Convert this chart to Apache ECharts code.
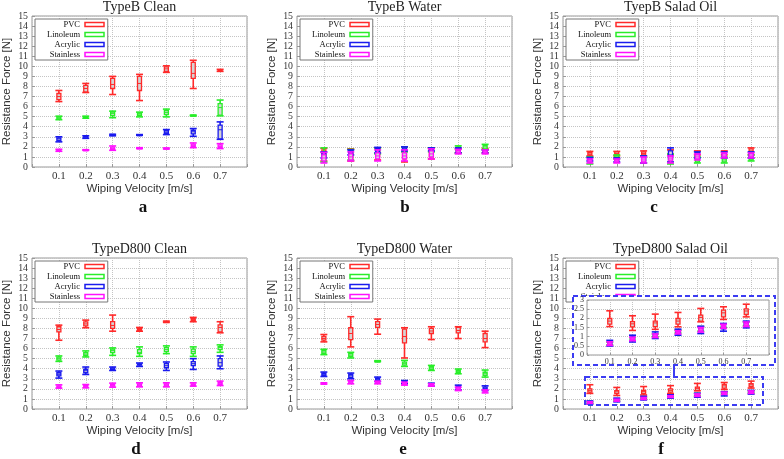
<!DOCTYPE html>
<html>
<head>
<meta charset="utf-8">
<script src="https://cdn.jsdelivr.net/npm/echarts@6/dist/echarts.min.js"></script>
<style>
html, body { margin: 0; padding: 0; background: #fff; }
#main { width: 784px; height: 459px; }
</style>
</head>
<body>
<div id="main"></div>
<script>
// wiping velocities (x) and materials
var velocity = [0.1, 0.2, 0.3, 0.4, 0.5, 0.6, 0.7];
var materials = ['PVC', 'Linoleum', 'Acrylic', 'Stainless'];
var colors = ['#ff2a2a', '#28ee28', '#1a1aee', '#ff10ff'];
var panelTitles = ['TypeB Clean', 'TypeB Water', 'TyepB Salad Oil', 'TypeD800 Clean', 'TypeD800 Water', 'TypeD800 Salad Oil'];
var panelLetters = ['a', 'b', 'c', 'd', 'e', 'f'];

// each entry: [min, q1, median, q3, max] for one velocity
var aPVC  = [[6.5,6.7,7.0,7.3,7.6],[7.4,7.45,7.8,8.1,8.3],[7.2,7.8,8.2,8.8,9.0],[6.6,7.6,8.3,9.0,9.2],[9.4,9.5,9.75,9.95,10.05],[7.8,8.8,9.3,10.4,10.6],[9.5,9.55,9.62,9.68,9.7]];
var aLino = [[4.7,4.78,4.88,4.97,5.05],[4.85,4.9,4.95,5.0,5.05],[4.9,5.1,5.3,5.45,5.55],[4.98,5.1,5.25,5.35,5.45],[4.98,5.2,5.4,5.6,5.75],[5.08,5.1,5.12,5.14,5.16],[5.08,5.15,5.9,6.3,6.65]];
var aAcr  = [[2.5,2.65,2.8,2.9,3.0],[2.85,2.9,2.97,3.05,3.1],[3.1,3.15,3.2,3.23,3.25],[3.15,3.18,3.2,3.21,3.22],[3.22,3.35,3.45,3.6,3.72],[3.05,3.3,3.5,3.65,3.82],[2.75,2.8,3.7,4.15,4.48]];
var aSta  = [[1.56,1.6,1.67,1.72,1.76],[1.66,1.68,1.7,1.71,1.72],[1.66,1.75,1.85,1.98,2.09],[1.83,1.86,1.88,1.9,1.92],[1.79,1.82,1.84,1.87,1.89],[1.92,2.05,2.15,2.28,2.39],[1.83,1.95,2.05,2.2,2.32]];

var bPVC  = [[0.6,1.0,1.3,1.7,1.85],[0.6,0.8,1.2,1.6,1.8],[0.7,1.0,1.4,1.8,1.9],[0.5,0.8,1.2,1.6,2.0],[0.8,1.0,1.4,1.7,1.85],[1.4,1.5,1.6,1.7,1.8],[1.4,1.5,1.6,1.75,1.85]];
var bLino = [[0.5,0.6,0.8,1.2,1.9],[0.7,1.0,1.3,1.6,1.75],[1.3,1.4,1.6,1.8,1.9],[1.5,1.6,1.7,1.9,2.0],[1.5,1.6,1.7,1.8,1.9],[1.4,1.6,1.8,2.0,2.1],[1.7,1.8,2.0,2.15,2.25]];
var bAcr  = [[0.9,1.0,1.2,1.4,1.5],[1.2,1.3,1.5,1.6,1.7],[1.4,1.5,1.7,1.85,1.95],[1.6,1.7,1.8,1.9,2.0],[1.6,1.7,1.8,1.85,1.9],[1.4,1.5,1.6,1.8,1.9],[1.4,1.5,1.6,1.65,1.7]];
var bSta  = [[0.4,0.6,0.9,1.2,1.45],[0.6,0.7,1.0,1.3,1.5],[0.6,0.8,1.1,1.4,1.7],[0.6,0.8,1.1,1.4,1.7],[0.8,1.0,1.3,1.6,1.8],[1.3,1.4,1.5,1.65,1.75],[1.3,1.4,1.5,1.6,1.7]];

var cPVC  = [[1.1,1.2,1.3,1.45,1.55],[1.1,1.2,1.35,1.5,1.55],[1.1,1.2,1.35,1.5,1.6],[1.2,1.3,1.45,1.6,1.7],[1.2,1.3,1.4,1.5,1.6],[1.2,1.3,1.4,1.5,1.6],[1.2,1.4,1.6,1.8,1.9]];
var cLino = [[0.3,0.5,0.7,0.9,1.0],[0.8,0.9,1.0,1.1,1.2],[0.4,0.6,0.8,1.0,1.1],[0.3,0.5,0.8,1.1,1.3],[0.4,0.5,0.7,0.9,1.0],[0.4,0.5,0.7,0.9,1.0],[0.6,0.7,0.9,1.1,1.2]];
var cAcr  = [[0.6,0.7,0.8,0.9,0.95],[0.5,0.6,0.75,0.85,0.9],[0.4,0.6,0.8,1.0,1.1],[0.5,0.8,1.2,1.6,1.9],[0.9,1.0,1.2,1.4,1.5],[0.9,1.0,1.2,1.4,1.5],[0.9,1.0,1.2,1.4,1.5]];
var cSta  = [[0.4,0.5,0.6,0.7,0.8],[0.4,0.5,0.6,0.7,0.8],[0.4,0.5,0.7,0.9,1.0],[0.4,0.6,0.8,1.0,1.1],[0.7,0.8,1.0,1.2,1.3],[0.9,1.0,1.1,1.3,1.4],[0.9,1.0,1.1,1.3,1.4]];

var dPVC  = [[6.83,7.67,7.9,8.17,8.33],[8.07,8.25,8.45,8.65,8.83],[7.73,8.0,8.3,8.67,9.33],[7.73,7.8,7.9,8.0,8.1],[8.6,8.63,8.65,8.7,8.73],[8.67,8.8,8.9,9.0,9.1],[7.57,7.65,8.1,8.35,8.67]];
var dLino = [[4.73,4.85,5.0,5.15,5.27],[5.17,5.3,5.45,5.6,5.77],[5.33,5.6,5.8,5.95,6.07],[5.23,5.5,5.6,5.9,6.17],[5.5,5.7,5.9,6.1,6.27],[5.23,5.5,5.7,5.95,6.17],[5.63,5.9,6.1,6.2,6.37]];
var dAcr  = [[3.07,3.3,3.45,3.6,3.77],[3.43,3.6,3.8,3.95,4.17],[3.83,3.92,4.0,4.08,4.17],[4.23,4.35,4.4,4.48,4.57],[3.83,4.1,4.3,4.5,4.67],[3.93,4.3,4.5,4.7,5.0],[4.0,4.25,4.6,5.0,5.27]];
var dSta  = [[2.07,2.15,2.2,2.3,2.4],[2.1,2.18,2.25,2.35,2.43],[2.17,2.28,2.35,2.45,2.57],[2.2,2.3,2.4,2.5,2.6],[2.2,2.3,2.4,2.5,2.6],[2.27,2.35,2.4,2.5,2.6],[2.33,2.45,2.55,2.65,2.77]];

var ePVC  = [[6.67,6.85,7.0,7.2,7.4],[6.17,6.9,7.5,8.07,9.17],[7.43,8.1,8.4,8.67,8.93],[5.07,6.57,7.2,7.93,8.07],[6.9,7.5,7.75,8.0,8.17],[7.0,7.57,7.8,8.1,8.17],[6.1,6.67,7.0,7.5,7.73]];
var eLino = [[5.4,5.5,5.65,5.8,5.93],[5.07,5.2,5.35,5.5,5.63],[4.7,4.72,4.75,4.77,4.8],[4.23,4.35,4.5,4.65,4.83],[3.83,3.95,4.1,4.2,4.33],[3.5,3.65,3.75,3.85,3.97],[3.17,3.35,3.5,3.65,3.87]];
var eAcr  = [[3.23,3.35,3.45,3.55,3.67],[3.0,3.15,3.3,3.45,3.57],[2.73,2.85,2.95,3.05,3.17],[2.5,2.58,2.65,2.73,2.83],[2.27,2.35,2.42,2.5,2.57],[1.9,2.05,2.15,2.25,2.37],[1.83,1.95,2.05,2.18,2.3]];
var eSta  = [[2.47,2.5,2.55,2.58,2.6],[2.5,2.6,2.7,2.78,2.83],[2.5,2.58,2.65,2.72,2.77],[2.37,2.45,2.5,2.6,2.67],[2.27,2.32,2.38,2.45,2.5],[1.83,1.92,2.0,2.1,2.17],[1.6,1.68,1.75,1.83,1.9]];

var fPVC  = [[1.55,1.68,1.85,1.99,2.41],[1.34,1.53,1.7,1.82,2.14],[1.4,1.55,1.75,1.85,2.23],[1.54,1.68,1.85,1.99,2.32],[1.81,1.84,2.05,2.17,2.54],[1.94,2.08,2.3,2.45,2.63],[2.08,2.21,2.4,2.52,2.77]];
var fLino = [[0.55,0.58,0.62,0.66,0.7],[0.8,0.84,0.88,0.92,0.95],[1.0,1.04,1.07,1.11,1.15],[1.2,1.23,1.27,1.31,1.35],[1.3,1.36,1.42,1.48,1.55],[1.5,1.55,1.6,1.65,1.7],[1.6,1.65,1.7,1.75,1.8]];
var fAcr  = [[0.49,0.57,0.65,0.73,0.8],[0.71,0.8,0.9,0.99,1.08],[0.9,0.99,1.08,1.17,1.26],[1.08,1.16,1.25,1.33,1.41],[1.17,1.28,1.4,1.48,1.57],[1.3,1.42,1.55,1.63,1.72],[1.48,1.58,1.68,1.77,1.85]];
var fSta  = [[0.52,0.56,0.6,0.66,0.72],[0.78,0.82,0.86,0.92,0.97],[0.95,1.0,1.04,1.1,1.15],[1.15,1.18,1.22,1.27,1.32],[1.25,1.3,1.35,1.42,1.5],[1.45,1.5,1.55,1.62,1.68],[1.55,1.6,1.65,1.72,1.8]];

var panelData = [
  [aPVC, aLino, aAcr, aSta],
  [bPVC, bLino, bAcr, bSta],
  [cPVC, cLino, cAcr, cSta],
  [dPVC, dLino, dAcr, dSta],
  [ePVC, eLino, eAcr, eSta],
  [fPVC, fLino, fAcr, fSta]
];

// layout
var gridLeft = [32, 297, 563, 32, 297, 563];
var gridTop = [16, 16, 16, 258, 258, 258];
var gridW = 215, gridH = 151;
var letterX = [143, 405, 654, 136, 403, 661];
var letterY = [199, 199, 199, 441, 441, 441];

var serif = 'Liberation Serif';
var sans = 'Liberation Sans';

function renderBox(params, api) {
  var x = api.value(0);
  var lo = api.coord([x, api.value(1)]);
  var q1 = api.coord([x, api.value(2)]);
  var med = api.coord([x, api.value(3)]);
  var q3 = api.coord([x, api.value(4)]);
  var hi = api.coord([x, api.value(5)]);
  var c = api.visual('color');
  var cap = 3.5, bw = 2;
  var st = {stroke: c, lineWidth: 1.6};
  return {
    type: 'group',
    children: [
      {type: 'line', shape: {x1: lo[0], y1: lo[1], x2: hi[0], y2: hi[1]}, style: st},
      {type: 'line', shape: {x1: lo[0] - cap, y1: lo[1], x2: lo[0] + cap, y2: lo[1]}, style: st},
      {type: 'line', shape: {x1: hi[0] - cap, y1: hi[1], x2: hi[0] + cap, y2: hi[1]}, style: st},
      {type: 'rect', shape: {x: q3[0] - bw, y: q3[1], width: bw * 2, height: Math.max(q1[1] - q3[1], 1)},
        style: {fill: '#d4d4d4', stroke: c, lineWidth: 1.3}},
      {type: 'line', shape: {x1: med[0] - bw, y1: med[1], x2: med[0] + bw, y2: med[1]},
        style: {stroke: c, lineWidth: 1}}
    ]
  };
}

function velLabel(v) {
  var r = Math.round(v * 10) / 10;
  return velocity.indexOf(r) >= 0 ? r.toFixed(1) : '';
}

var grids = [], xAxes = [], yAxes = [], series = [], legends = [], titles = [];

for (var i = 0; i < 6; i++) {
  grids.push({left: gridLeft[i], top: gridTop[i], width: gridW, height: gridH,
    show: true, borderColor: '#999', borderWidth: 1, backgroundColor: '#fff'});
  xAxes.push({
    gridIndex: i, type: 'value', min: 0, max: 0.8, interval: 0.1,
    name: 'Wiping Velocity [m/s]', nameLocation: 'middle', nameGap: 15,
    nameTextStyle: {fontFamily: sans, fontSize: 11.5, color: '#333'},
    axisLine: {show: false},
    axisTick: {inside: true, length: 3, lineStyle: {color: '#999'}},
    axisLabel: {formatter: velLabel, fontFamily: serif, fontSize: 11, color: '#333', margin: 4},
    splitLine: {show: true, lineStyle: {type: 'dotted', color: '#c4c4c4'}}
  });
  yAxes.push({
    gridIndex: i, type: 'value', min: 0, max: 15, interval: 1,
    name: 'Resistance Force [N]', nameLocation: 'middle', nameGap: 19,
    nameTextStyle: {fontFamily: sans, fontSize: 11.5, color: '#333'},
    axisLine: {show: false},
    axisTick: {inside: true, length: 3, lineStyle: {color: '#999'}},
    axisLabel: {fontFamily: serif, fontSize: 9.8, lineHeight: 9.8, color: '#333', margin: 4,
      showMinLabel: true, showMaxLabel: true, hideOverlap: false},
    splitLine: {show: true, lineStyle: {type: 'dotted', color: '#c4c4c4'}}
  });
  for (var m = 0; m < 4; m++) {
    series.push({
      type: 'custom', name: materials[m], xAxisIndex: i, yAxisIndex: i,
      itemStyle: {color: colors[m]}, renderItem: renderBox,
      encode: {x: 0, y: [1, 2, 3, 4, 5]},
      data: panelData[i][m].map(function (s, k) { return [velocity[k]].concat(s); })
    });
  }
  legends.push({
    left: gridLeft[i] + 3, top: gridTop[i] + 3, orient: 'vertical', align: 'right',
    data: materials.map(function (n, k) {
      return {name: n, itemStyle: {color: '#fff', borderColor: colors[k], borderWidth: 1.5}};
    }),
    icon: 'rect', itemWidth: 19, itemHeight: 4, itemGap: 1, padding: [1, 3],
    borderColor: '#777', borderWidth: 1, backgroundColor: '#fff', selectedMode: false,
    textStyle: {fontFamily: serif, fontSize: 8.5, lineHeight: 7.7, width: 42, align: 'right', color: '#111'}
  });
  titles.push({text: panelTitles[i], left: gridLeft[i] + gridW / 2, top: gridTop[i] - 16, textAlign: 'center',
    padding: 0, textStyle: {fontFamily: serif, fontSize: 14, fontWeight: 'normal', color: '#222'}});
  titles.push({text: panelLetters[i], left: letterX[i], top: letterY[i], textAlign: 'center', padding: 0,
    textStyle: {fontFamily: serif, fontSize: 17, fontWeight: 'bold', color: '#111'}});
}

// zoomed inset for panel f
grids.push({left: 587, top: 300, width: 182, height: 55, show: true, borderColor: '#999',
  borderWidth: 1, backgroundColor: '#fff', zlevel: 1});
xAxes.push({
  gridIndex: 6, type: 'value', min: 0, max: 0.8, interval: 0.1, zlevel: 1,
  axisLine: {show: false},
  axisTick: {inside: true, length: 2, lineStyle: {color: '#999'}},
  axisLabel: {formatter: velLabel, fontFamily: serif, fontSize: 8, color: '#333', margin: 3},
  splitLine: {show: true, lineStyle: {type: 'dotted', color: '#c4c4c4'}}
});
yAxes.push({
  gridIndex: 6, type: 'value', min: 0, max: 3, interval: 0.5, zlevel: 1,
  axisLine: {show: false},
  axisTick: {inside: true, length: 2, lineStyle: {color: '#999'}},
  axisLabel: {fontFamily: serif, fontSize: 8, lineHeight: 7, color: '#333', margin: 3,
    showMinLabel: true, showMaxLabel: true, hideOverlap: false},
  splitLine: {show: true, lineStyle: {type: 'dotted', color: '#c4c4c4'}}
});
function fData(m) {
  return panelData[5][m].map(function (s, k) { return [velocity[k]].concat(s); });
}
for (var m2 = 0; m2 < 4; m2++) {
  series.push({
    type: 'custom', name: materials[m2], xAxisIndex: 6, yAxisIndex: 6, zlevel: 1,
    itemStyle: {color: colors[m2]}, renderItem: renderBox,
    encode: {x: 0, y: [1, 2, 3, 4, 5]},
    data: fData(m2)
  });
}

var dashBlue = '#3c3cf2';
var option = {
  animation: false,
  backgroundColor: '#fff',
  title: titles,
  legend: legends,
  grid: grids,
  xAxis: xAxes,
  yAxis: yAxes,
  series: series,
  graphic: [
    {type: 'rect', z: 50, shape: {x: 573, y: 296, width: 202, height: 69},
      style: {fill: '#fff', stroke: dashBlue, lineWidth: 2, lineDash: [5, 3]}},
    {type: 'rect', z: 50, shape: {x: 585, y: 377, width: 178, height: 28},
      style: {fill: 'none', stroke: dashBlue, lineWidth: 2, lineDash: [5, 3]}},
    {type: 'line', z: 50, shape: {x1: 674, y1: 365, x2: 674, y2: 377},
      style: {stroke: dashBlue, lineWidth: 2}}
  ]
};

var myChart = echarts.init(document.getElementById('main'));
myChart.setOption(option);
</script>
</body>
</html>
